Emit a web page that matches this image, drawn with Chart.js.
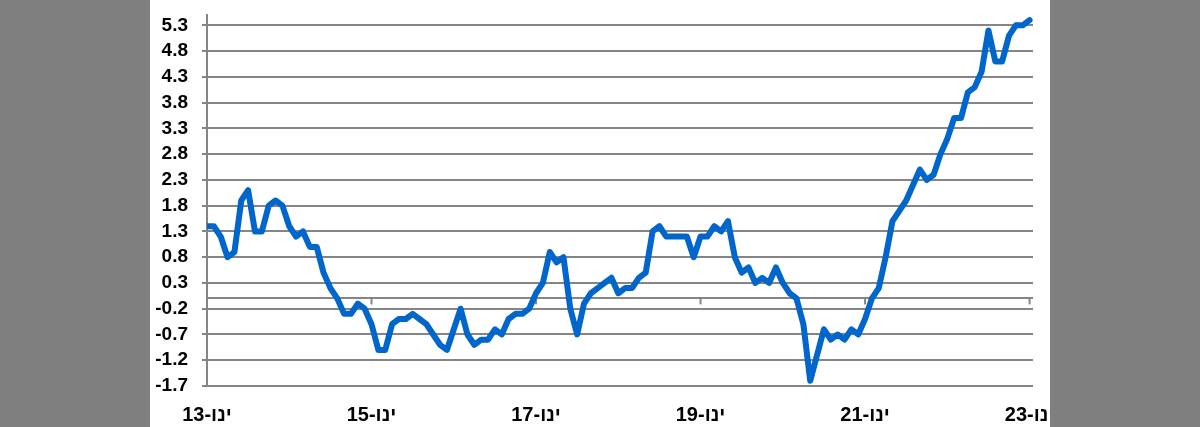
<!DOCTYPE html>
<html lang="he">
<head>
<meta charset="utf-8">
<script src="https://cdn.jsdelivr.net/npm/chart.js@4.4.0/dist/chart.umd.min.js"></script>
<style>
  html, body { margin: 0; padding: 0; background: #7f7f7f; width: 1200px; height: 427px; overflow: hidden; }
  #panel { position: absolute; left: 150px; top: 0; width: 900px; height: 427px; background: #ffffff; }
  #wrap { position: absolute; left: 150px; top: 0; width: 1050px; height: 427px; }
  #rightEdge { position: absolute; left: 1050px; top: 0; width: 150px; height: 427px; background: #7f7f7f; }
</style>
</head>
<body>
<div id="panel"></div>
<div id="wrap"><canvas id="cpiChart" width="1050" height="427"></canvas></div>
<div id="rightEdge"></div>
<script>
// monthly yearly-change values, Jan 2013 .. Jan 2023
const values2013 = [1.4, 1.4, 1.2, 0.8, 0.9, 1.9, 2.1, 1.3, 1.3, 1.8, 1.9, 1.8];
const values2014 = [1.4, 1.2, 1.3, 1.0, 1.0, 0.5, 0.2, 0.0, -0.3, -0.3, -0.1, -0.2];
const values2015 = [-0.5, -1.0, -1.0, -0.5, -0.4, -0.4, -0.3, -0.4, -0.5, -0.7, -0.9, -1.0];
const values2016 = [-0.6, -0.2, -0.7, -0.9, -0.8, -0.8, -0.6, -0.7, -0.4, -0.3, -0.3, -0.2];
const values2017 = [0.1, 0.3, 0.9, 0.7, 0.8, -0.2, -0.7, -0.1, 0.1, 0.2, 0.3, 0.4];
const values2018 = [0.1, 0.2, 0.2, 0.4, 0.5, 1.3, 1.4, 1.2, 1.2, 1.2, 1.2, 0.8];
const values2019 = [1.2, 1.2, 1.4, 1.3, 1.5, 0.8, 0.5, 0.6, 0.3, 0.4, 0.3, 0.6];
const values2020 = [0.3, 0.1, 0.0, -0.5, -1.6, -1.1, -0.6, -0.8, -0.7, -0.8, -0.6, -0.7];
const values2021 = [-0.4, 0.0, 0.2, 0.8, 1.5, 1.7, 1.9, 2.2, 2.5, 2.3, 2.4, 2.8];
const values2022 = [3.1, 3.5, 3.5, 4.0, 4.1, 4.4, 5.2, 4.6, 4.6, 5.1, 5.3, 5.3];
const values2023 = [5.4];

// x axis: month index from Jan 2013, labelled every two years
const tickMonths = [0, 24, 48, 72, 96, 120];
const tickLabels = ['ינו-13', 'ינו-15', 'ינו-17', 'ינו-19', 'ינו-21', 'ינו-23'];

// y axis gridlines (0 is the category axis line, no label)
const yTickValues = [-1.7, -1.2, -0.7, -0.2, 0, 0.3, 0.8, 1.3, 1.8, 2.3, 2.8, 3.3, 3.8, 4.3, 4.8, 5.3];

const allValues = [].concat(values2013, values2014, values2015, values2016, values2017,
    values2018, values2019, values2020, values2021, values2022, values2023);
const points = allValues.map((v, i) => ({ x: i, y: v }));

const gridGray = '#858585';
const fontFamily = 'Arial, "Liberation Sans", sans-serif';

// small tick marks hanging under the zero line
const zeroAxisTicks = {
    id: 'zeroAxisTicks',
    beforeDatasetsDraw(chart) {
        const ctx = chart.ctx;
        const xs = chart.scales.x;
        const y0 = chart.scales.y.getPixelForValue(0);
        ctx.save();
        ctx.strokeStyle = gridGray;
        ctx.lineWidth = 2;
        tickMonths.forEach(m => {
            const px = xs.getPixelForValue(m);
            ctx.beginPath();
            ctx.moveTo(px, y0);
            ctx.lineTo(px, y0 + 6);
            ctx.stroke();
        });
        ctx.restore();
    }
};

const ctx = document.getElementById('cpiChart').getContext('2d');
new Chart(ctx, {
    type: 'line',
    data: {
        datasets: [{
            data: points,
            borderColor: '#0066cc',
            borderWidth: 6,
            pointRadius: 0,
            tension: 0,
            fill: false,
            borderJoinStyle: 'round',
            borderCapStyle: 'round'
        }]
    },
    options: {
        responsive: false,
        animation: false,
        layout: { padding: { top: 15, right: 167, bottom: 0, left: 0 } },
        plugins: {
            legend: { display: false },
            tooltip: { enabled: false }
        },
        scales: {
            x: {
                type: 'linear',
                min: 0,
                max: 120.5,
                afterBuildTicks: s => { s.ticks = tickMonths.map(v => ({ value: v })); },
                afterFit: s => { s.height = 41; s.paddingLeft = 0; s.paddingRight = 0; },
                grid: { display: false, drawTicks: false },
                border: { display: false },
                ticks: {
                    autoSkip: false,
                    maxRotation: 0,
                    padding: 17,
                    color: '#000',
                    font: { family: fontFamily, size: 20, weight: 'bold' },
                    callback: (v, i) => tickLabels[i]
                }
            },
            y: {
                min: -1.7,
                max: 5.5,
                afterBuildTicks: s => { s.ticks = yTickValues.map(v => ({ value: v })); },
                afterFit: s => { s.width = 57; s.paddingTop = 0; s.paddingBottom = 0; },
                grid: {
                    color: gridGray,
                    lineWidth: 2,
                    tickLength: 5,
                    tickColor: c => (c.tick && c.tick.value === 0) ? 'rgba(0,0,0,0)' : gridGray
                },
                border: { color: gridGray, width: 2 },
                ticks: {
                    autoSkip: false,
                    padding: 14,
                    color: '#000',
                    font: { family: fontFamily, size: 19, weight: 'bold' },
                    callback: v => v === 0 ? '' : v.toFixed(1)
                }
            }
        }
    },
    plugins: [zeroAxisTicks]
});
</script>
</body>
</html>
